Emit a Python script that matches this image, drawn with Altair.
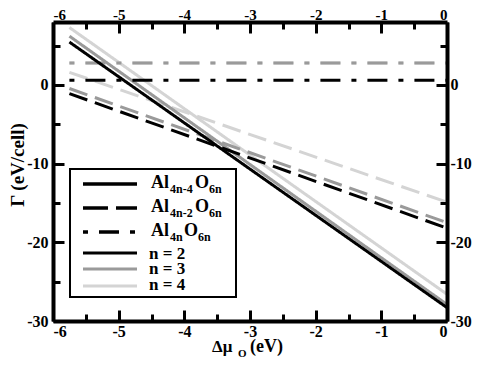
import altair as alt
import pandas as pd

# ---------------- data ----------------
families = ["Al4n-4O6n", "Al4n-2O6n", "Al4nO6n"]
sizes = ["n = 2", "n = 3", "n = 4"]
mu_range = [-5.75, 0.0]
solid_gamma = [[5.45, -28.3], [6.2, -27.9], [7.3, -26.6]]
dashed_gamma = [[-1.1, -18.2], [-0.45, -17.5], [1.6, -14.9]]
dashdot_gamma = [[0.6, 0.6], [2.8, 2.8], [2.8, 2.8]]
x_ticks_major = [-6, -5, -4, -3, -2, -1, 0]
x_ticks_minor = [-5.5, -4.5, -3.5, -2.5, -1.5, -0.5]
y_ticks_major = [-30, -20, -10, 0]
y_ticks_minor = [-25, -15, -5, 5]
colors = ["#000000", "#9a9a9a", "#d4d4d4"]

rows = []
# n = 4 first so that it is drawn underneath, n = 2 last (on top)
for k in [2, 1, 0]:
    for fam, series in zip(families, [solid_gamma, dashed_gamma, dashdot_gamma]):
        for mu, g in zip(mu_range, series[k]):
            rows.append({"family": fam, "size": sizes[k], "mu": mu, "gamma": g})
df = pd.DataFrame(rows)
one = pd.DataFrame({"k": [0]})

W, H = 394, 299
FONT = "Liberation Serif"
xs = alt.Scale(domain=[-6, 0], nice=False, zero=False)
ys = alt.Scale(domain=[-30, 8], nice=False, zero=False)


def label_axis(orient, values, pad, size=16, **kw):
    return alt.Axis(orient=orient, values=values, ticks=False, tickSize=0,
                    domain=True, domainColor="black", domainWidth=4,
                    grid=False, labelPadding=pad, title=None,
                    labelFont=FONT, labelFontWeight="bold", labelFontSize=size,
                    labelColor="black", labelExpr="toString(datum.value)", zindex=1, **kw)


def tick_axis(orient, values, size, offset):
    return alt.Axis(orient=orient, values=values, ticks=True, tickSize=size,
                    tickWidth=3, tickColor="black", domain=False, labels=False,
                    grid=False, title=None, offset=offset, zindex=1)


def axis_layer(ax_x, ax_y):
    return alt.Chart(df).mark_point(opacity=0).encode(
        x=alt.X("mu:Q", scale=xs, axis=ax_x),
        y=alt.Y("gamma:Q", scale=ys, axis=ax_y),
    )


lines = alt.Chart(df).mark_line(strokeWidth=3).encode(
    x=alt.X("mu:Q", scale=xs, axis=label_axis("bottom", x_ticks_major, 2)),
    y=alt.Y("gamma:Q", scale=ys, axis=label_axis("left", y_ticks_major, 5)),
    color=alt.Color("size:N", scale=alt.Scale(domain=sizes, range=colors), legend=None),
    strokeDash=alt.StrokeDash("family:N", scale=alt.Scale(
        domain=families, range=[[1, 0], [19, 8], [5, 11, 20, 11]]), legend=None),
    detail="family:N",
)

top_right = axis_layer(
    label_axis("top", x_ticks_major, 3, size=15, labelBaseline="alphabetic"),
    label_axis("right", y_ticks_major, 3))
ticks_a = axis_layer(tick_axis("top", x_ticks_major, 11, -H), tick_axis("right", y_ticks_major, 11, -W))
ticks_b = axis_layer(tick_axis("bottom", x_ticks_major, 11, -H), tick_axis("left", y_ticks_major, 11, -W))
ticks_c = axis_layer(tick_axis("top", x_ticks_minor, 7, -H), tick_axis("right", y_ticks_minor, 7, -W))
ticks_d = axis_layer(tick_axis("bottom", x_ticks_minor, 7, -H), tick_axis("left", y_ticks_minor, 7, -W))


def txt(s, x, y, size=18, **kw):
    return alt.Chart(one).mark_text(font=FONT, fontWeight="bold", fontSize=size,
                                    color="black", **kw).encode(
        x=alt.value(x), y=alt.value(y), text=alt.value(s))


def ltxt(s, x, y, size=18):
    return txt(s, x, y, size, align="left", baseline="alphabetic")


# axis titles (x title has a subscript)
titles = [
    ltxt("Δμ", 159, 330, 17), ltxt("O", 185, 335, 11), ltxt("(eV)", 197, 330, 18),
    txt("Γ (eV/cell)", -35, 143, 19, angle=270, align="center", baseline="middle"),
]

# hand-built legend
box = alt.Chart(one).mark_rect(fill="white", stroke="black", strokeWidth=2).encode(
    x=alt.value(17), x2=alt.value(183), y=alt.value(147), y2=alt.value(275))

legend_marks = [box]
dash_styles = [[1, 0], [25, 8], [5, 11, 20, 11]]
for ly, dash in zip([162, 186, 210], dash_styles):
    legend_marks.append(alt.Chart(one).mark_rule(color="black", strokeWidth=3.5, strokeDash=dash).encode(
        x=alt.value(30), x2=alt.value(84), y=alt.value(ly)))
for ly, c in zip([231, 247, 264], colors):
    legend_marks.append(alt.Chart(one).mark_rule(color=c, strokeWidth=3).encode(
        x=alt.value(30), x2=alt.value(84), y=alt.value(ly)))

subs = ["4n-4", "4n-2", "4n"]
o_x = [142, 142, 131]
for i, (sub, ox) in enumerate(zip(subs, o_x)):
    base = 166 + 24 * i
    legend_marks += [ltxt("Al", 98, base), ltxt(sub, 117, base + 5, 12),
                     ltxt("O", ox, base), ltxt("6n", ox + 14, base + 5, 12)]
for sz, base in zip(sizes, [237, 252, 268]):
    legend_marks.append(ltxt(sz, 96, base, 17))

chart = alt.layer(
    ticks_a, ticks_b, ticks_c, ticks_d, top_right, lines, *legend_marks, *titles
).resolve_axis(x="independent", y="independent").properties(
    width=W, height=H,
    autosize=alt.AutoSizeParams(type="none"),
    padding={"left": 45, "top": 14, "right": 25, "bottom": 38},
).configure_view(stroke=None)

chart.save("out.html", embed_options={"renderer": "svg", "actions": False})
